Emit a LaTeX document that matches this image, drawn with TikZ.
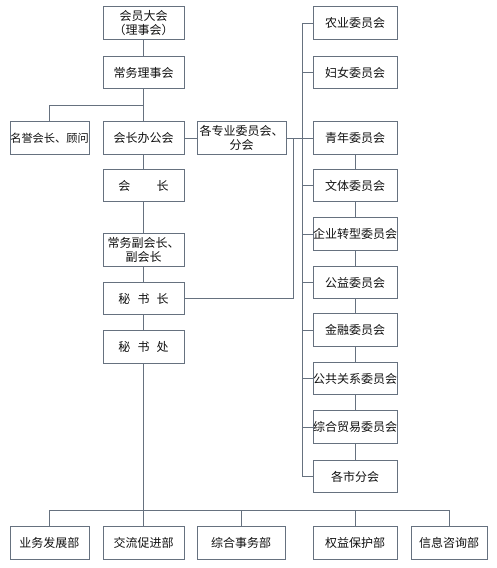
\documentclass[tikz,border=0pt]{standalone}
\usepackage{fontspec}
\newfontfamily\cjk{Noto Sans CJK SC}
\usepackage{tikz}
\usetikzlibrary{positioning,calc}
\definecolor{cEdge}{HTML}{66717F}
\definecolor{cText}{HTML}{111111}
\tikzset{
  box/.style   = {rectangle, draw=cEdge, fill=white, line width=0.8pt, outer sep=0pt,
                  minimum width=#1, minimum height=32.5pt, inner sep=0pt,
                  align=center, text=cText, font=\cjk\fontsize{12}{13.5}\selectfont},
  box/.default = 81pt,
  cmte/.style  = {box=84pt},
  ln/.style    = {draw=cEdge, line width=0.8pt},
}
\begin{document}
\begin{tikzpicture}[x=1pt, y=-1pt, node distance=16pt and 14pt]
  \useasboundingbox (0,0) rectangle (497,568);
  % main column
  \node[box] (meet) at (143.5,23) {会员大会\\（理事会）};
  \node[box, below=17pt of meet] (stand) {常务理事会};
  \node[box, below=33pt of stand] (office) {会长办公会};
  \node[box=79pt, left=of office, font=\cjk\fontsize{11.2}{13}\selectfont] (honor) {名誉会长、顾问};
  \node[box=89pt, right=13pt of office] (prof) {各专业委员会、\\分会};
  \node[box, below=15pt of office] (pres) {会\hspace{2.2em}长};
  \node[box, below=32pt of pres] (vice) {常务副会长、\\副会长};
  \node[box, below=of vice] (secg) {秘\hspace{0.6em}书\hspace{0.6em}长};
  \node[box, below=of secg] (seco) {秘\hspace{0.6em}书\hspace{0.6em}处};
  % committees
  \node[cmte] (c1) at (355,23) {农业委员会};
  \node[cmte, below=17pt of c1] (c2) {妇女委员会};
  \node[cmte, below=33pt of c2] (c3) {青年委员会};
  \node[cmte, below=15pt of c3] (c4) {文体委员会};
  \node[cmte, below=of c4] (c5) {企业转型委员会};
  \node[cmte, below=of c5] (c6) {公益委员会};
  \node[cmte, below=15pt of c6] (c7) {金融委员会};
  \node[cmte, below=of c7] (c8) {公共关系委员会};
  \node[cmte, below=of c8] (c9) {综合贸易委员会};
  \node[cmte, below=17pt of c9] (c10) {各市分会};
  % departments
  \node[box, below=163.5pt of seco] (d2) {交流促进部};
  \node[box=79pt, left=of d2] (d1) {业务发展部};
  \node[box=88pt, right=13pt of d2] (d3) {综合事务部};
  \node[cmte, below=34pt of c10] (d4) {权益保护部};
  \node[box=76pt, right=of d4] (d5) {信息咨询部};

  \coordinate (trk) at ([xshift=-11pt]c1.west);
  \coordinate (lnk) at ([xshift=7pt]prof.east);
  \coordinate (bus) at ([yshift=16pt]d2.north);

  \draw[ln] (meet) -- (stand); \draw[ln] (stand) -- (office);
  \draw[ln] (honor.north) |- ($(stand.south)!0.5!(office.north)$);
  \draw[ln] (office) -- (prof); \draw[ln] (office) -- (pres);
  \draw[ln] (pres) -- (vice); \draw[ln] (vice) -- (secg); \draw[ln] (secg) -- (seco);
  \draw[ln] (secg.east) -| (lnk);
  \draw[ln] (prof.east) -- (prof.east -| trk);
  \draw[ln] (c1.west) -- (trk) |- (c10.west);
  \foreach \c in {c2,c3,c4,c5,c6,c7,c8,c9}
    \draw[ln] (\c.west) -- (\c.west -| trk);
  \draw[ln] (c3) -- (c4); \draw[ln] (c4) -- (c5); \draw[ln] (c5) -- (c6);
  \draw[ln] (c6) -- (c7); \draw[ln] (c7) -- (c8); \draw[ln] (c8) -- (c9);
  \draw[ln] (c9) -- (c10);
  \draw[ln] (seco) -- (d2);
  \draw[ln] (d1.north) |- (bus) -| (d5.north);
  \draw[ln] (d3.north) -- (d3.north |- bus);
  \draw[ln] (d4.north) -- (d4.north |- bus);
\end{tikzpicture}
\end{document}
